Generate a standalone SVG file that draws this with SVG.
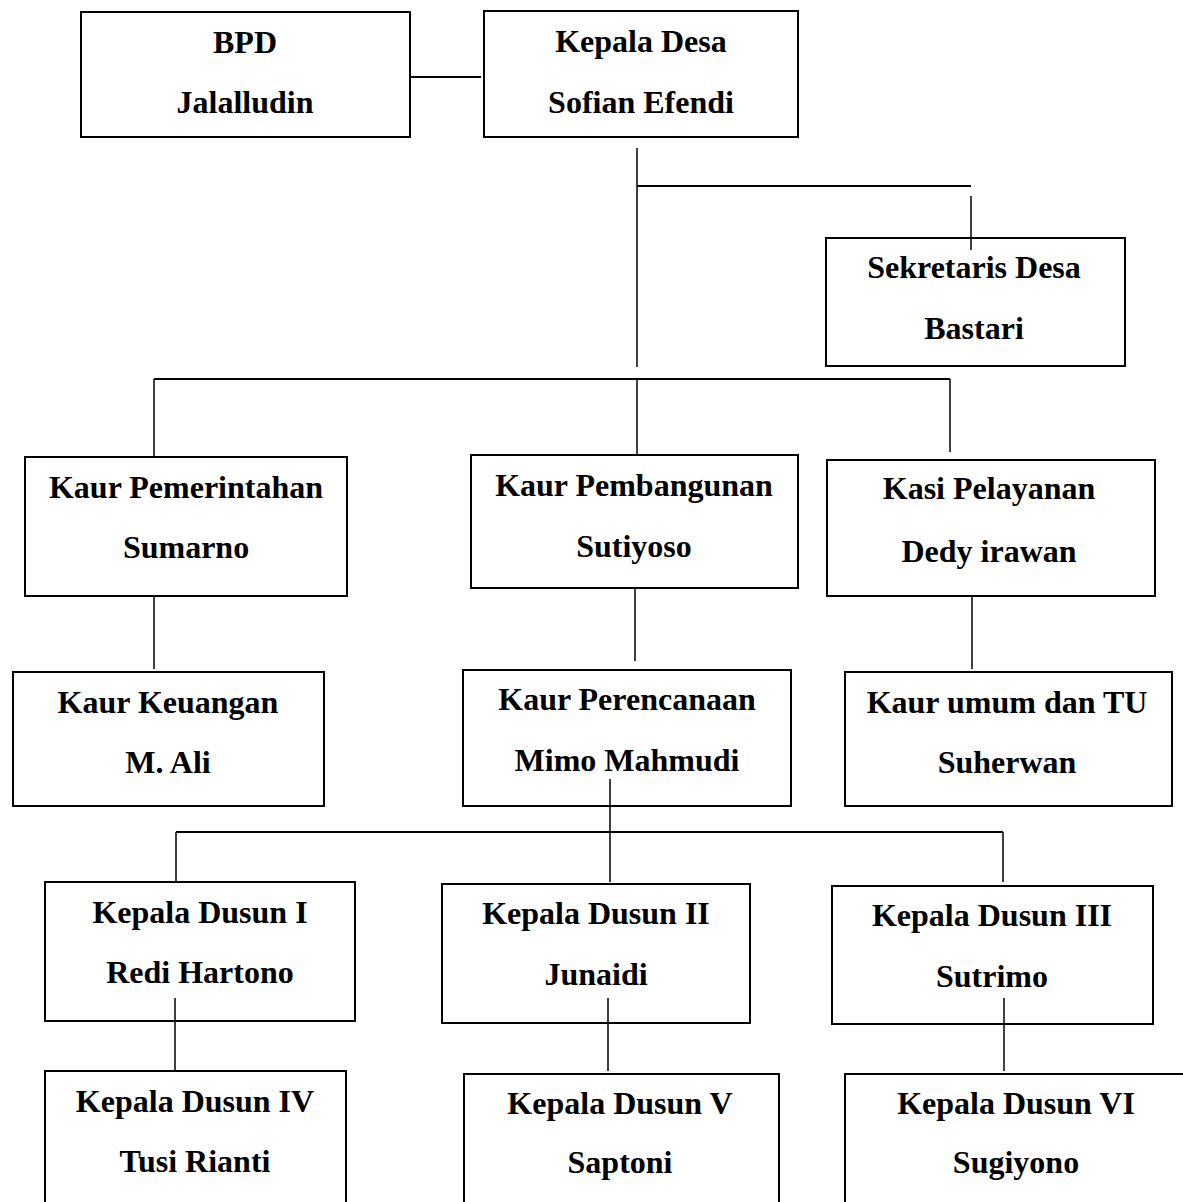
<svg xmlns="http://www.w3.org/2000/svg" width="1183" height="1202" viewBox="0 0 1183 1202">
<style>
.box{fill:#fff;stroke:#000;stroke-width:2}
.ln{stroke:#000;stroke-width:1.5;fill:none}
.bar{stroke:#000;stroke-width:2;fill:none}
text{font-family:"Liberation Serif","Times New Roman",serif;font-weight:bold;font-size:32px;text-anchor:middle;fill:#000}
</style>
<rect width="1183" height="1202" fill="#fff"/>
<g id="bpd"><rect class="box" x="81" y="12" width="329" height="125"/><text x="245" y="53">BPD</text><text x="245" y="113">Jalalludin</text></g>
<g id="kepala-desa"><rect class="box" x="484" y="11" width="314" height="126"/><text x="641" y="52">Kepala Desa</text><text x="641" y="113">Sofian Efendi</text></g>
<g id="sekretaris"><rect class="box" x="826" y="238" width="299" height="128"/><text x="974" y="278">Sekretaris Desa</text><text x="974" y="339">Bastari</text></g>
<g id="kaur-pemerintahan"><rect class="box" x="25" y="457" width="322" height="139"/><text x="186" y="498">Kaur Pemerintahan</text><text x="186" y="558">Sumarno</text></g>
<g id="kaur-pembangunan"><rect class="box" x="471" y="455" width="327" height="133"/><text x="634" y="496">Kaur Pembangunan</text><text x="634" y="557">Sutiyoso</text></g>
<g id="kasi-pelayanan"><rect class="box" x="827" y="460" width="328" height="136"/><text x="989" y="499">Kasi Pelayanan</text><text x="989" y="562">Dedy irawan</text></g>
<g id="kaur-keuangan"><rect class="box" x="13" y="672" width="311" height="134"/><text x="168" y="713">Kaur Keuangan</text><text x="168" y="773">M. Ali</text></g>
<g id="kaur-perencanaan"><rect class="box" x="463" y="670" width="328" height="136"/><text x="627" y="710">Kaur Perencanaan</text><text x="627" y="771">Mimo Mahmudi</text></g>
<g id="kaur-umum"><rect class="box" x="845" y="672" width="327" height="134"/><text x="1007" y="713">Kaur umum dan TU</text><text x="1007" y="773">Suherwan</text></g>
<g id="dusun-1"><rect class="box" x="45" y="882" width="310" height="139"/><text x="200" y="923">Kepala Dusun I</text><text x="200" y="983">Redi Hartono</text></g>
<g id="dusun-2"><rect class="box" x="442" y="884" width="308" height="139"/><text x="596" y="924">Kepala Dusun II</text><text x="596" y="985">Junaidi</text></g>
<g id="dusun-3"><rect class="box" x="832" y="886" width="321" height="138"/><text x="992" y="926">Kepala Dusun III</text><text x="992" y="987">Sutrimo</text></g>
<g id="dusun-4"><rect class="box" x="45" y="1071" width="301" height="145"/><text x="195" y="1112">Kepala Dusun IV</text><text x="195" y="1172">Tusi Rianti</text></g>
<g id="dusun-5"><rect class="box" x="464" y="1074" width="315" height="142"/><text x="620" y="1114">Kepala Dusun V</text><text x="620" y="1173">Saptoni</text></g>
<g id="dusun-6"><rect class="box" x="845" y="1074" width="345" height="142"/><text x="1016" y="1114">Kepala Dusun VI</text><text x="1016" y="1173">Sugiyono</text></g>
<g id="connectors">
<line class="bar" x1="410" y1="77" x2="481" y2="77"/>
<line class="ln" x1="637" y1="148" x2="637" y2="367"/>
<line class="bar" x1="637" y1="186" x2="971" y2="186"/>
<line class="ln" x1="971" y1="196" x2="971" y2="250"/>
<line class="bar" x1="154" y1="379" x2="950" y2="379"/>
<line class="ln" x1="154" y1="379" x2="154" y2="456"/>
<line class="ln" x1="637" y1="379" x2="637" y2="454"/>
<line class="ln" x1="950" y1="379" x2="950" y2="452"/>
<line class="ln" x1="154" y1="597" x2="154" y2="669"/>
<line class="ln" x1="635" y1="589" x2="635" y2="661"/>
<line class="ln" x1="972" y1="597" x2="972" y2="669"/>
<line class="ln" x1="610" y1="779" x2="610" y2="882"/>
<line class="bar" x1="176" y1="832" x2="1003" y2="832"/>
<line class="ln" x1="176" y1="832" x2="176" y2="881"/>
<line class="ln" x1="1003" y1="832" x2="1003" y2="882"/>
<line class="ln" x1="175" y1="998" x2="175" y2="1071"/>
<line class="ln" x1="608" y1="998" x2="608" y2="1071"/>
<line class="ln" x1="1004" y1="998" x2="1004" y2="1071"/>
</g>
</svg>
